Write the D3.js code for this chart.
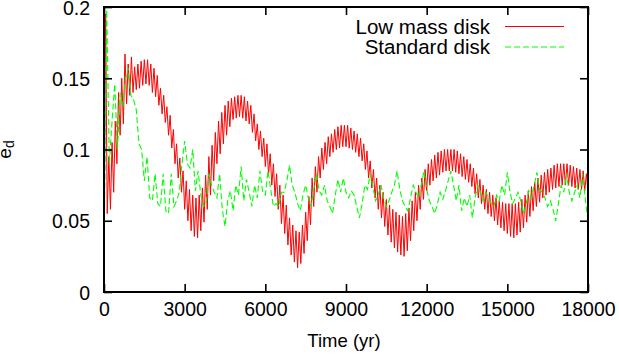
<!DOCTYPE html>
<html>
<head>
<meta charset="utf-8">
<script src="https://cdn.jsdelivr.net/npm/d3@7"></script>
<style>
  html, body { margin: 0; padding: 0; background: #fff; }
  svg text { font-family: "Liberation Sans", Arial, Helvetica, sans-serif; }
</style>
</head>
<body>
<svg id="chart" width="619" height="356"></svg>
<script>
// ---- data ----
const seriesNames = ["Low mass disk", "Standard disk"];
const xTicks = [0, 3000, 6000, 9000, 12000, 15000, 18000];
const yTicks = [0, 0.05, 0.1, 0.15, 0.2];
const yTickLabels = ["0", "0.05", "0.1", "0.15", "0.2"];
const xLabel = "Time (yr)";

// Low mass disk: e_d sampled every 60 yr (alternating trough / crest of the fast oscillation)
const lowMassStep = 60;
const lowMass = [
  0.020,0.195,0.055,0.095,0.058,0.105,0.070,0.120,0.090,0.140,
  0.110,0.150,0.118,0.167,0.132,0.160,0.138,0.165,0.140,0.158,
  0.142,0.160,0.143,0.162,0.145,0.163,0.146,0.163,0.145,0.160,
  0.140,0.157,0.137,0.152,0.131,0.143,0.125,0.138,0.119,0.130,
  0.110,0.124,0.101,0.114,0.090,0.104,0.080,0.094,0.070,0.085,
  0.058,0.078,0.050,0.072,0.043,0.068,0.039,0.066,0.038,0.068,
  0.043,0.073,0.049,0.082,0.058,0.095,0.068,0.103,0.078,0.112,
  0.090,0.120,0.097,0.126,0.104,0.131,0.110,0.134,0.116,0.136,
  0.121,0.137,0.122,0.138,0.123,0.138,0.122,0.137,0.120,0.134,
  0.118,0.131,0.112,0.125,0.106,0.118,0.100,0.113,0.095,0.108,
  0.088,0.104,0.082,0.097,0.075,0.090,0.067,0.083,0.058,0.075,
  0.048,0.068,0.041,0.061,0.033,0.052,0.026,0.047,0.021,0.043,
  0.017,0.042,0.020,0.047,0.027,0.056,0.036,0.067,0.047,0.080,
  0.060,0.088,0.070,0.095,0.080,0.101,0.086,0.105,0.090,0.109,
  0.095,0.111,0.098,0.114,0.100,0.116,0.101,0.117,0.102,0.117,
  0.102,0.117,0.101,0.115,0.100,0.113,0.098,0.111,0.095,0.108,
  0.092,0.104,0.086,0.099,0.080,0.092,0.073,0.086,0.066,0.080,
  0.058,0.075,0.052,0.070,0.046,0.065,0.040,0.061,0.035,0.058,
  0.031,0.056,0.028,0.054,0.026,0.053,0.025,0.055,0.029,0.059,
  0.036,0.064,0.043,0.070,0.050,0.075,0.058,0.080,0.065,0.086,
  0.071,0.090,0.075,0.093,0.078,0.096,0.080,0.098,0.082,0.099,
  0.084,0.100,0.085,0.100,0.085,0.100,0.085,0.100,0.084,0.099,
  0.083,0.097,0.081,0.095,0.079,0.093,0.077,0.090,0.074,0.087,
  0.069,0.083,0.066,0.079,0.062,0.075,0.058,0.072,0.055,0.070,
  0.053,0.068,0.050,0.066,0.047,0.064,0.045,0.063,0.043,0.062,
  0.041,0.062,0.039,0.062,0.038,0.062,0.040,0.063,0.042,0.065,
  0.045,0.068,0.049,0.071,0.053,0.074,0.057,0.077,0.060,0.080,
  0.063,0.082,0.066,0.084,0.068,0.086,0.070,0.087,0.072,0.089,
  0.073,0.090,0.074,0.090,0.075,0.090,0.075,0.090,0.075,0.089,
  0.074,0.088,0.073,0.087,0.072,0.086,0.072,0.085,0.071,0.083,
  0.070
];

// Standard disk: e_d sampled every 100 yr
const standardStep = 100;
const standard = [
  0.022,0.198,0.090,0.120,0.146,0.100,0.140,0.130,0.150,0.157,
  0.138,0.135,0.128,0.104,0.100,0.078,0.095,0.066,0.064,0.083,
  0.062,0.060,0.083,0.057,0.055,0.083,0.060,0.064,0.070,0.090,
  0.106,0.090,0.087,0.100,0.071,0.085,0.068,0.060,0.062,0.083,
  0.075,0.070,0.066,0.083,0.058,0.046,0.064,0.071,0.057,0.075,
  0.068,0.088,0.064,0.079,0.070,0.060,0.075,0.066,0.085,0.070,
  0.068,0.085,0.072,0.060,0.062,0.060,0.070,0.070,0.078,0.089,
  0.075,0.070,0.062,0.057,0.068,0.075,0.066,0.060,0.072,0.083,
  0.071,0.068,0.075,0.064,0.060,0.055,0.068,0.079,0.070,0.080,
  0.070,0.066,0.071,0.068,0.060,0.052,0.062,0.075,0.072,0.083,
  0.074,0.064,0.068,0.075,0.066,0.060,0.064,0.070,0.075,0.085,
  0.072,0.064,0.060,0.057,0.066,0.075,0.070,0.066,0.075,0.085,
  0.072,0.064,0.060,0.055,0.062,0.070,0.065,0.071,0.078,0.085,
  0.075,0.064,0.075,0.057,0.066,0.060,0.068,0.052,0.066,0.075,
  0.070,0.064,0.070,0.066,0.062,0.060,0.068,0.064,0.075,0.068,
  0.084,0.070,0.062,0.066,0.070,0.064,0.055,0.062,0.071,0.066,
  0.075,0.084,0.072,0.070,0.066,0.060,0.064,0.058,0.050,0.062,
  0.075,0.070,0.083,0.070,0.064,0.070,0.075,0.066,0.083,0.065,
  0.050
];

// ---- layout ----
const svg = d3.select("#chart");
const plotLeft = 104, plotRight = 588, plotTop = 7, plotBottom = 292;
const tickFont = 19.5, legendFont = 20.5, labelFont = 18.5;
const red = "#ff0000", green = "#00ff00";

const x = d3.scaleLinear().domain([0, 18000]).range([plotLeft, plotRight]);
const y = d3.scaleLinear().domain([0, 0.2]).range([plotBottom, plotTop]);

svg.append("rect").attr("width", 619).attr("height", 356).attr("fill", "#fff");

svg.append("defs").append("clipPath").attr("id", "clip")
  .append("rect").attr("x", plotLeft).attr("y", plotTop)
  .attr("width", plotRight - plotLeft).attr("height", plotBottom - plotTop);

// lines
const makeLine = (step) => d3.line().x((d, i) => x(i * step)).y(d => y(d));

const plot = svg.append("g").attr("clip-path", "url(#clip)");
plot.append("path").datum(lowMass)
  .attr("d", makeLine(lowMassStep))
  .attr("fill", "none").attr("stroke", red).attr("stroke-width", 1);
plot.append("path").datum(standard)
  .attr("d", makeLine(standardStep))
  .attr("fill", "none").attr("stroke", green).attr("stroke-width", 1.1)
  .attr("stroke-dasharray", "6,3");

// axes
const tickLen = 8;
function styleAxis(g) {
  g.select(".domain").remove();
  g.selectAll(".tick line").attr("stroke", "#000").attr("stroke-width", 1.6);
  g.selectAll(".tick text").attr("fill", "#000").style("font-size", tickFont + "px")
    .style("font-family", '"Liberation Sans", Arial, sans-serif');
}

svg.append("g").attr("transform", `translate(0,${plotBottom})`)
  .call(d3.axisBottom(x).tickValues(xTicks).tickFormat(d3.format("d"))
    .tickSizeInner(-tickLen).tickSizeOuter(0).tickPadding(10.3))
  .call(styleAxis);

svg.append("g").attr("transform", `translate(0,${plotTop})`)
  .call(d3.axisTop(x).tickValues(xTicks).tickFormat("")
    .tickSizeInner(-tickLen).tickSizeOuter(0))
  .call(styleAxis);

svg.append("g").attr("transform", `translate(${plotLeft},0)`)
  .call(d3.axisLeft(y).tickValues(yTicks).tickFormat((d, i) => yTickLabels[i])
    .tickSizeInner(-tickLen).tickSizeOuter(0).tickPadding(14))
  .call(styleAxis)
  .selectAll(".tick text").attr("dy", "0.37em");

svg.append("g").attr("transform", `translate(${plotRight},0)`)
  .call(d3.axisRight(y).tickValues(yTicks).tickFormat("")
    .tickSizeInner(-tickLen).tickSizeOuter(0))
  .call(styleAxis);

// frame
svg.append("rect").attr("x", plotLeft).attr("y", plotTop)
  .attr("width", plotRight - plotLeft).attr("height", plotBottom - plotTop)
  .attr("fill", "none").attr("stroke", "#000").attr("stroke-width", 2);

// axis labels
svg.append("text").attr("x", 344).attr("y", 347)
  .attr("text-anchor", "middle").style("font-size", labelFont + "px").text(xLabel);

const yl = svg.append("text")
  .attr("transform", `translate(10.5,${(plotTop + plotBottom) / 2}) rotate(-90)`)
  .attr("text-anchor", "middle").style("font-size", "19px");
yl.append("tspan").text("e");
yl.append("tspan").attr("dy", 3).style("font-size", "14px").text("d");

// legend
const legend = svg.append("g");
const legendRows = [
  { name: seriesNames[0], color: red, dash: null, yy: 26.5 },
  { name: seriesNames[1], color: green, dash: "6,3", yy: 47 }
];
legendRows.forEach(r => {
  legend.append("text").attr("x", 490).attr("y", r.yy + 7)
    .attr("text-anchor", "end").style("font-size", legendFont + "px").text(r.name);
  legend.append("line").attr("x1", 505).attr("x2", 564).attr("y1", r.yy).attr("y2", r.yy)
    .attr("stroke", r.color).attr("stroke-width", 1.2)
    .attr("stroke-dasharray", r.dash);
});
</script>
</body>
</html>
